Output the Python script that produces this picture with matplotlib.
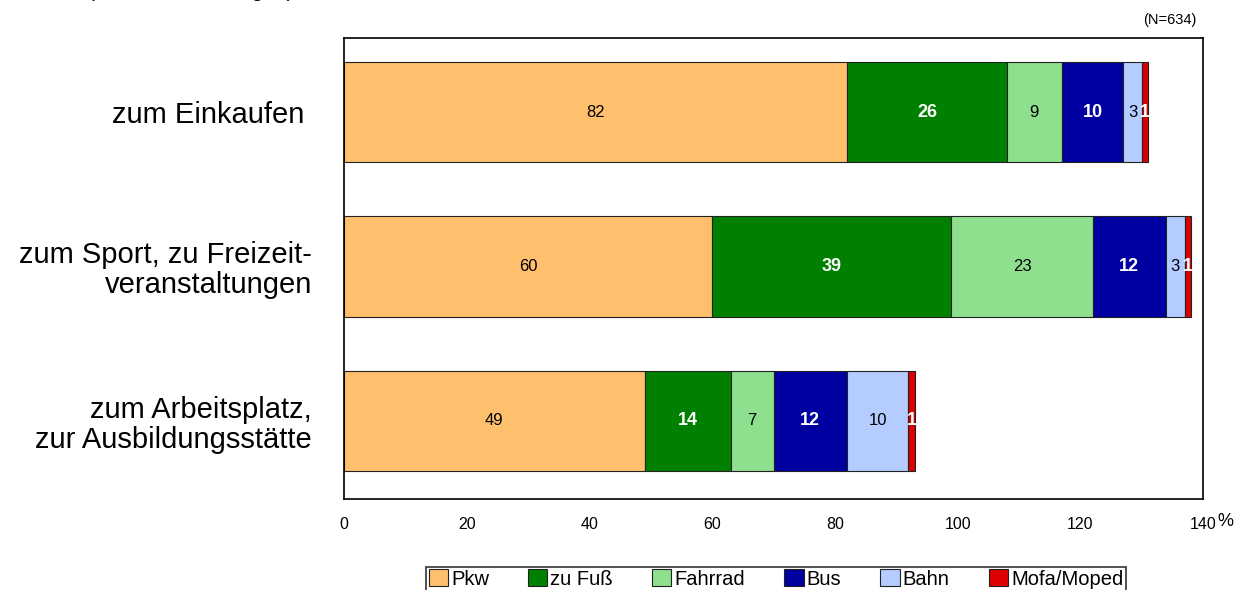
import matplotlib
matplotlib.use("Agg")
import matplotlib.pyplot as plt

plt.rcParams['font.family'] = ['Liberation Sans', 'DejaVu Sans']

categories = ["zum Einkaufen ", "zum Sport, zu Freizeit-\nveranstaltungen",
              "zum Arbeitsplatz,\nzur Ausbildungsstätte"]
series = ["Pkw", "zu Fuß", "Fahrrad", "Bus", "Bahn", "Mofa/Moped"]
pkw = [82, 60, 49]
zu_fuss = [26, 39, 14]
fahrrad = [9, 23, 7]
bus = [10, 12, 12]
bahn = [3, 3, 10]
mofa = [1, 1, 1]
values = [pkw, zu_fuss, fahrrad, bus, bahn, mofa]
colors = ["#FFC06E", "#008000", "#8EE08E", "#0000A0", "#B4CCFF", "#DD0000"]
label_colors = ["black", "white", "black", "white", "black", "white"]
label_bold = [False, True, False, True, False, True]
xticks = [0, 20, 40, 60, 80, 100, 120, 140]

fig = plt.figure(figsize=(12.37, 5.90), dpi=100)
ax = fig.add_axes([344/1237, 1-499/590, (1203-344)/1237, (499-38)/590])

ypos = list(range(len(categories)))
left = [0]*len(categories)
for vals, col, lc, lb, name in zip(values, colors, label_colors, label_bold, series):
    ax.barh(ypos, vals, left=left, height=0.65, color=col, edgecolor='#222222',
            linewidth=0.8, label=name)
    for y, v, l in zip(ypos, vals, left):
        if lb:
            ax.text(l + v/2, y, str(v), ha='center', va='center', color=lc,
                    fontsize=13, fontweight='bold')
        else:
            ax.text(l + v/2, y, str(v), ha='center', va='center', color=lc,
                    fontsize=12)
    left = [a+b for a, b in zip(left, vals)]

ax.set_xlim(0, 140)
ax.set_ylim(2.505, -0.479)
ax.set_xticks(xticks)
ax.set_xticklabels([str(t) for t in xticks], fontsize=11.5)
ax.tick_params(axis='x', length=0, pad=13)
ax.set_yticks(ypos)
ax.set_yticklabels(categories, fontsize=21, ha='right', multialignment='right',
                   linespacing=1.08)
ax.tick_params(axis='y', length=0, pad=23)
for s in ax.spines.values():
    s.set_color('black')
    s.set_linewidth(1.2)

fig.text(1217/1237, 1-522/590, "%", fontsize=13, va='center', ha='left')
fig.text(1197/1237, 1-20/590, "(N=634)", fontsize=10.5, va='center', ha='right')
fig.text(88/1237, 1+3/590, "(Mehrfachnennungen)", fontsize=15, va='baseline', ha='left')

leg = fig.legend(loc='upper center', bbox_to_anchor=(776/1237, 1-567/590), ncol=6,
                 frameon=True, fancybox=False, edgecolor='black',
                 handlelength=0.95, handleheight=0.9, handletextpad=0.15,
                 columnspacing=1.95, borderpad=0.12, borderaxespad=0,
                 prop={'size': 14.5})
leg.get_frame().set_linewidth(1.2)

fig.savefig("out.png", dpi=100)
